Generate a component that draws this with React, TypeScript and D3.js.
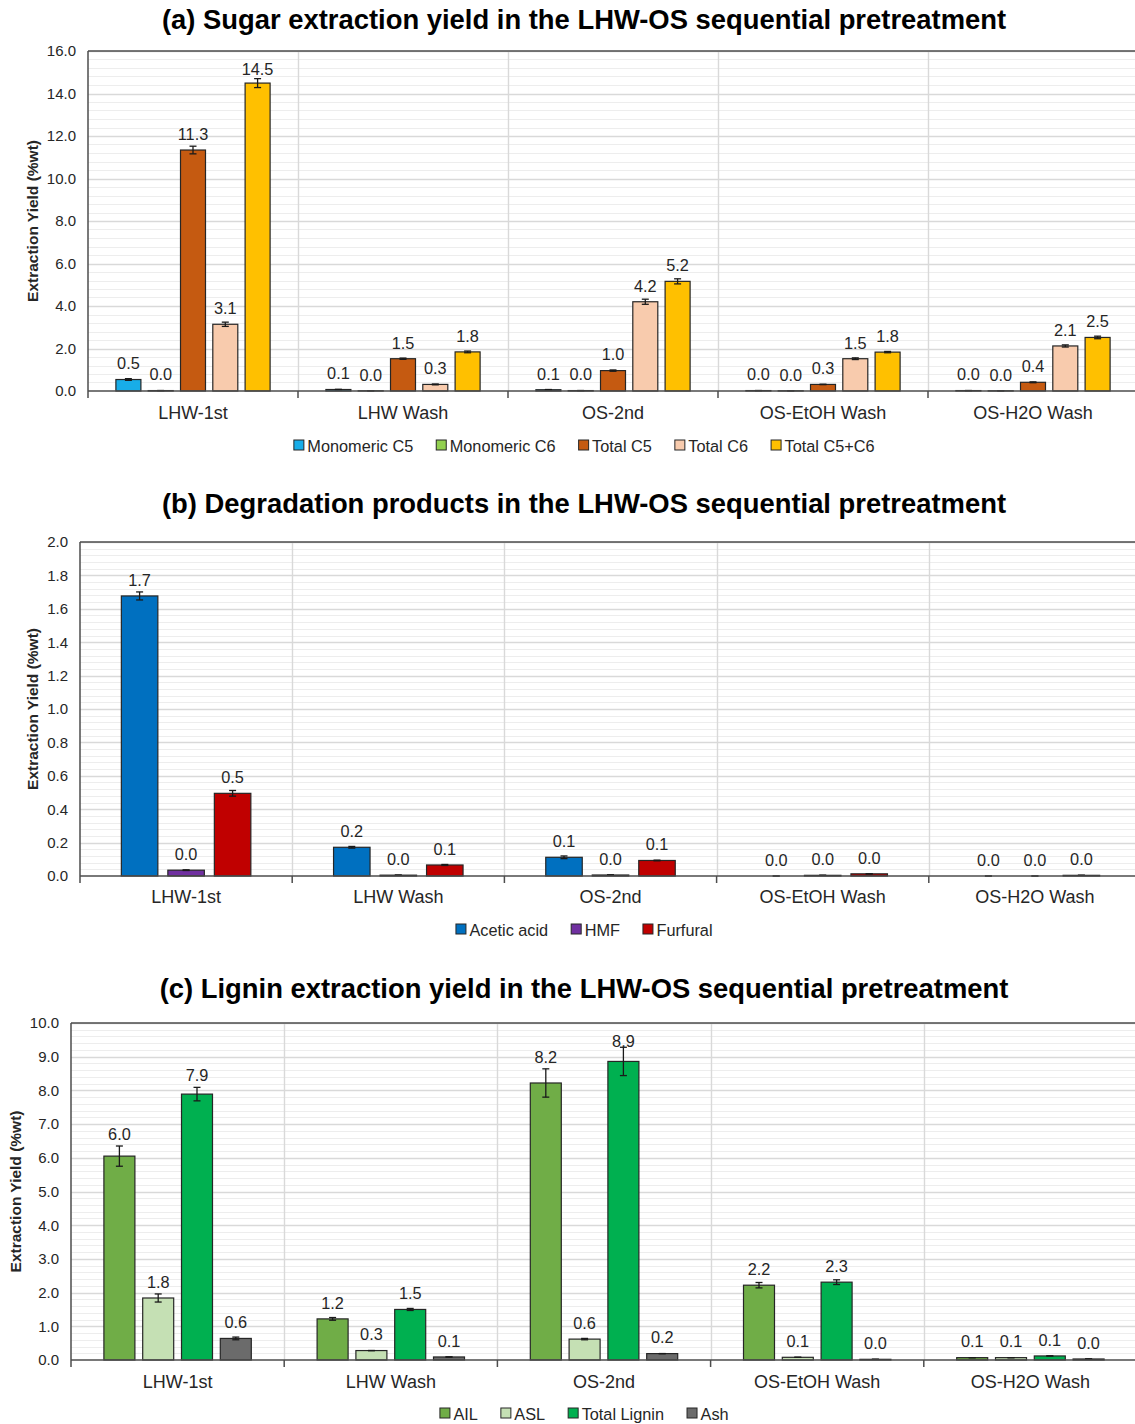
import React, { useRef, useEffect } from 'react';
import * as d3 from 'd3';

// pretreatment stages (x categories, shared by all three panels)
const stages = ['LHW-1st', 'LHW Wash', 'OS-2nd', 'OS-EtOH Wash', 'OS-H2O Wash'];

// (a) sugar extraction yield (%wt)
const sugarSeries = ['Monomeric C5', 'Monomeric C6', 'Total C5', 'Total C6', 'Total C5+C6'];
const monomericC5 = [0.54, 0.07, 0.06, 0.02, 0.02];
const monomericC6 = [0.02, 0.01, 0.02, 0.01, 0.01];
const totalC5 = [11.34, 1.52, 0.96, 0.31, 0.41];
const totalC6 = [3.14, 0.31, 4.2, 1.52, 2.12];
const totalC5C6 = [14.49, 1.84, 5.16, 1.83, 2.52];
const monomericC5Err = [0.04, 0.01, 0.01, 0.0, 0.0];
const monomericC6Err = [0.0, 0.0, 0.0, 0.0, 0.0];
const totalC5Err = [0.18, 0.03, 0.03, 0.01, 0.02];
const totalC6Err = [0.1, 0.02, 0.12, 0.04, 0.05];
const totalC5C6Err = [0.21, 0.04, 0.12, 0.03, 0.06];

// (b) degradation products (%wt)
const degradSeries = ['Acetic acid', 'HMF', 'Furfural'];
const aceticAcid = [1.677, 0.172, 0.112, 0.0, 0.0];
const hmf = [0.035, 0.005, 0.006, 0.004, 0.0];
const furfural = [0.495, 0.066, 0.093, 0.013, 0.004];
const aceticAcidErr = [0.024, 0.005, 0.008, 0.0, 0.0];
const hmfErr = [0.002, 0.0, 0.0, 0.0, 0.0];
const furfuralErr = [0.017, 0.003, 0.002, 0.0, 0.0];

// (c) lignin extraction yield (%wt)
const ligninSeries = ['AIL', 'ASL', 'Total Lignin', 'Ash'];
const ail = [6.05, 1.22, 8.22, 2.22, 0.07];
const asl = [1.84, 0.28, 0.62, 0.08, 0.07];
const totalLignin = [7.89, 1.5, 8.86, 2.31, 0.12];
const ash = [0.64, 0.09, 0.19, 0.02, 0.03];
const ailErr = [0.3, 0.04, 0.42, 0.08, 0.0];
const aslErr = [0.12, 0.0, 0.02, 0.0, 0.0];
const totalLigninErr = [0.2, 0.03, 0.42, 0.07, 0.0];
const ashErr = [0.04, 0.0, 0.0, 0.0, 0.0];

const FONT = '"Liberation Sans", Arial, sans-serif';
const CENTER_X = 584;

type Panel = {
  title: string;
  titleY: number;
  left: number;
  right: number;
  top: number;
  bottom: number;
  yMax: number;
  majorStep: number;
  minorStep: number;
  series: string[];
  values: number[][];
  errors: number[][];
  colors: string[];
  barWidth: number;
  barStep: number;
  yTitleX: number;
  catLabelY: number;
  legendY: number;
};

const panels: Panel[] = [
  {
    title: '(a) Sugar extraction yield in the LHW-OS sequential pretreatment',
    titleY: 29,
    left: 88, right: 1138, top: 51, bottom: 391,
    yMax: 16, majorStep: 2, minorStep: 0.4,
    series: sugarSeries,
    values: [monomericC5, monomericC6, totalC5, totalC6, totalC5C6],
    errors: [monomericC5Err, monomericC6Err, totalC5Err, totalC6Err, totalC5C6Err],
    colors: ['#18ADE8', '#92D050', '#C55A11', '#F8CBAD', '#FFC000'],
    barWidth: 25, barStep: 32.3,
    yTitleX: 33, catLabelY: 419, legendY: 451.5,
  },
  {
    title: '(b) Degradation products in the LHW-OS sequential pretreatment',
    titleY: 513,
    left: 80, right: 1141, top: 542, bottom: 876,
    yMax: 2, majorStep: 0.2, minorStep: 0.04,
    series: degradSeries,
    values: [aceticAcid, hmf, furfural],
    errors: [aceticAcidErr, hmfErr, furfuralErr],
    colors: ['#0070C0', '#7030A0', '#C00000'],
    barWidth: 36.5, barStep: 46.5,
    yTitleX: 33, catLabelY: 903, legendY: 935.5,
  },
  {
    title: '(c) Lignin extraction yield in the LHW-OS sequential pretreatment',
    titleY: 998,
    left: 71, right: 1137, top: 1023, bottom: 1360,
    yMax: 10, majorStep: 1, minorStep: 0.2,
    series: ligninSeries,
    values: [ail, asl, totalLignin, ash],
    errors: [ailErr, aslErr, totalLigninErr, ashErr],
    colors: ['#70AD47', '#C5E0B4', '#00B050', '#6B6B6B'],
    barWidth: 31, barStep: 38.8,
    yTitleX: 16, catLabelY: 1387.5, legendY: 1419.5,
  },
];

const drawPanel = (svg: d3.Selection<SVGSVGElement, unknown, null, undefined>, p: Panel) => {
  const g = svg.append('g');
  const n = p.series.length;

  const x0 = d3.scaleBand<string>().domain(stages).range([p.left, p.right]);
  const groupW = p.barStep * (n - 1) + p.barWidth;
  const x1 = d3.scaleBand<string>()
    .domain(p.series)
    .range([0, groupW])
    .paddingInner(1 - p.barWidth / p.barStep)
    .paddingOuter(0);
  const offset = (x0.bandwidth() - groupW) / 2;

  const y = d3.scaleLinear().domain([0, p.yMax]).range([p.bottom, p.top]);

  // --- gridlines ---
  const eps = 1e-6;
  const majors = d3.range(0, p.yMax + eps, p.majorStep);
  const minors = d3.range(0, p.yMax + eps, p.minorStep)
    .filter(v => Math.abs(v / p.majorStep - Math.round(v / p.majorStep)) > 1e-4);

  g.append('g').selectAll('line').data(minors).enter().append('line')
    .attr('x1', p.left).attr('x2', p.right)
    .attr('y1', d => Math.round(y(d)) + 0.5).attr('y2', d => Math.round(y(d)) + 0.5)
    .attr('stroke', '#EDEDED').attr('stroke-width', 1.2);

  g.append('g').selectAll('line').data(majors.slice(1)).enter().append('line')
    .attr('x1', p.left).attr('x2', p.right)
    .attr('y1', d => Math.round(y(d)) + 0.5).attr('y2', d => Math.round(y(d)) + 0.5)
    .attr('stroke', '#D9D9D9').attr('stroke-width', 1.4);

  // vertical separators between stages
  g.append('g').selectAll('line').data(stages.slice(1)).enter().append('line')
    .attr('x1', d => Math.round(x0(d)!) + 0.5).attr('x2', d => Math.round(x0(d)!) + 0.5)
    .attr('y1', p.top).attr('y2', p.bottom)
    .attr('stroke', '#D9D9D9').attr('stroke-width', 1.4);

  // top border
  g.append('line')
    .attr('x1', p.left).attr('x2', p.right)
    .attr('y1', p.top).attr('y2', p.top)
    .attr('stroke', '#4D4D4D').attr('stroke-width', 1.5);

  // --- bars ---
  const cells = stages.flatMap((s, si) =>
    p.series.map((name, ki) => ({
      stage: s, name, ki,
      v: p.values[ki][si],
      e: p.errors[ki][si],
    })));

  g.append('g').selectAll('rect').data(cells).enter().append('rect')
    .attr('x', d => x0(d.stage)! + offset + x1(d.name)!)
    .attr('y', d => y(d.v))
    .attr('width', x1.bandwidth())
    .attr('height', d => Math.max(0, p.bottom - y(d.v)))
    .attr('fill', d => p.colors[d.ki])
    .attr('stroke', '#262626')
    .attr('stroke-width', 1.2);

  // error bars
  const eb = g.append('g').attr('stroke', '#1A1A1A').attr('stroke-width', 1.3);
  cells.forEach(d => {
    const cx = x0(d.stage)! + offset + x1(d.name)! + x1.bandwidth() / 2;
    const yTop = y(d.v + d.e);
    const yBot = y(Math.max(0, d.v - d.e));
    eb.append('line').attr('x1', cx).attr('x2', cx).attr('y1', yTop).attr('y2', yBot);
    eb.append('line').attr('x1', cx - 3.5).attr('x2', cx + 3.5).attr('y1', yTop).attr('y2', yTop);
    eb.append('line').attr('x1', cx - 3.5).attr('x2', cx + 3.5).attr('y1', yBot).attr('y2', yBot);
  });

  // data labels
  g.append('g').selectAll('text').data(cells).enter().append('text')
    .attr('x', d => x0(d.stage)! + offset + x1(d.name)! + x1.bandwidth() / 2)
    .attr('y', d => {
      const c = Math.max(p.top + 18, Math.min(y(d.v) - 16, y(d.v + d.e) - 12));
      return c + 5.8;
    })
    .attr('text-anchor', 'middle')
    .style('font-family', FONT)
    .style('font-size', '16.3px')
    .style('fill', '#262626')
    .text(d => d.v.toFixed(1));

  // --- axes ---
  g.append('line')
    .attr('x1', p.left).attr('x2', p.left)
    .attr('y1', p.top).attr('y2', p.bottom)
    .attr('stroke', '#4D4D4D').attr('stroke-width', 1.5);
  g.append('line')
    .attr('x1', p.left).attr('x2', p.right)
    .attr('y1', p.bottom).attr('y2', p.bottom)
    .attr('stroke', '#4D4D4D').attr('stroke-width', 1.5);

  // category tick marks at stage boundaries
  g.append('g').selectAll('line').data(stages).enter().append('line')
    .attr('x1', d => x0(d)!).attr('x2', d => x0(d)!)
    .attr('y1', p.bottom).attr('y2', p.bottom + 7)
    .attr('stroke', '#4D4D4D').attr('stroke-width', 1.5);

  // y tick labels
  const yAxis = g.append('g')
    .attr('transform', `translate(${p.left},0)`)
    .call(d3.axisLeft(y).tickValues(majors).tickFormat(d3.format('.1f')).tickSize(0).tickPadding(12));
  yAxis.select('.domain').remove();
  yAxis.selectAll('text')
    .style('font-family', FONT)
    .style('font-size', '15px')
    .style('fill', '#262626');

  // category labels
  g.append('g').selectAll('text').data(stages).enter().append('text')
    .attr('x', d => x0(d)! + x0.bandwidth() / 2)
    .attr('y', p.catLabelY)
    .attr('text-anchor', 'middle')
    .style('font-family', FONT)
    .style('font-size', '18px')
    .style('fill', '#262626')
    .text(d => d);

  // y title
  g.append('text')
    .attr('transform', `translate(${p.yTitleX},${(p.top + p.bottom) / 2}) rotate(-90)`)
    .attr('dy', '0.35em')
    .attr('text-anchor', 'middle')
    .style('font-family', FONT)
    .style('font-size', '15.5px')
    .style('font-weight', 'bold')
    .style('fill', '#262626')
    .text('Extraction Yield (%wt)');

  // chart title
  g.append('text')
    .attr('x', CENTER_X)
    .attr('y', p.titleY)
    .attr('text-anchor', 'middle')
    .style('font-family', FONT)
    .style('font-size', '27.4px')
    .style('font-weight', 'bold')
    .style('fill', '#000')
    .text(p.title);

  // --- legend ---
  const legend = g.append('g');
  let cursor = 0;
  p.series.forEach((name, i) => {
    const item = legend.append('g').attr('transform', `translate(${cursor},0)`);
    item.append('rect')
      .attr('x', 0.5).attr('y', -11.5)
      .attr('width', 10).attr('height', 10)
      .attr('fill', p.colors[i])
      .attr('stroke', '#262626').attr('stroke-width', 1);
    const t = item.append('text')
      .attr('x', 14)
      .attr('y', 0)
      .style('font-family', FONT)
      .style('font-size', '16.3px')
      .style('fill', '#262626')
      .text(name);
    const w = (t.node() as SVGTextElement).getComputedTextLength();
    cursor += 14 + w + 22.5;
  });
  const total = cursor - 22.5;
  legend.attr('transform', `translate(${CENTER_X - total / 2},${p.legendY})`);
};

const App = () => {
  const svgRef = useRef<SVGSVGElement>(null);

  useEffect(() => {
    document.body.style.margin = '0';
    const svg = d3.select(svgRef.current!);
    svg.selectAll('*').remove();
    svg.append('rect').attr('width', 1135).attr('height', 1424).attr('fill', '#fff');
    panels.forEach(p => drawPanel(svg, p));
  }, []);

  return (
    <svg
      ref={svgRef}
      width={1135}
      height={1424}
      style={{ position: 'absolute', left: 0, top: 0, display: 'block' }}
    />
  );
};

export default App;
